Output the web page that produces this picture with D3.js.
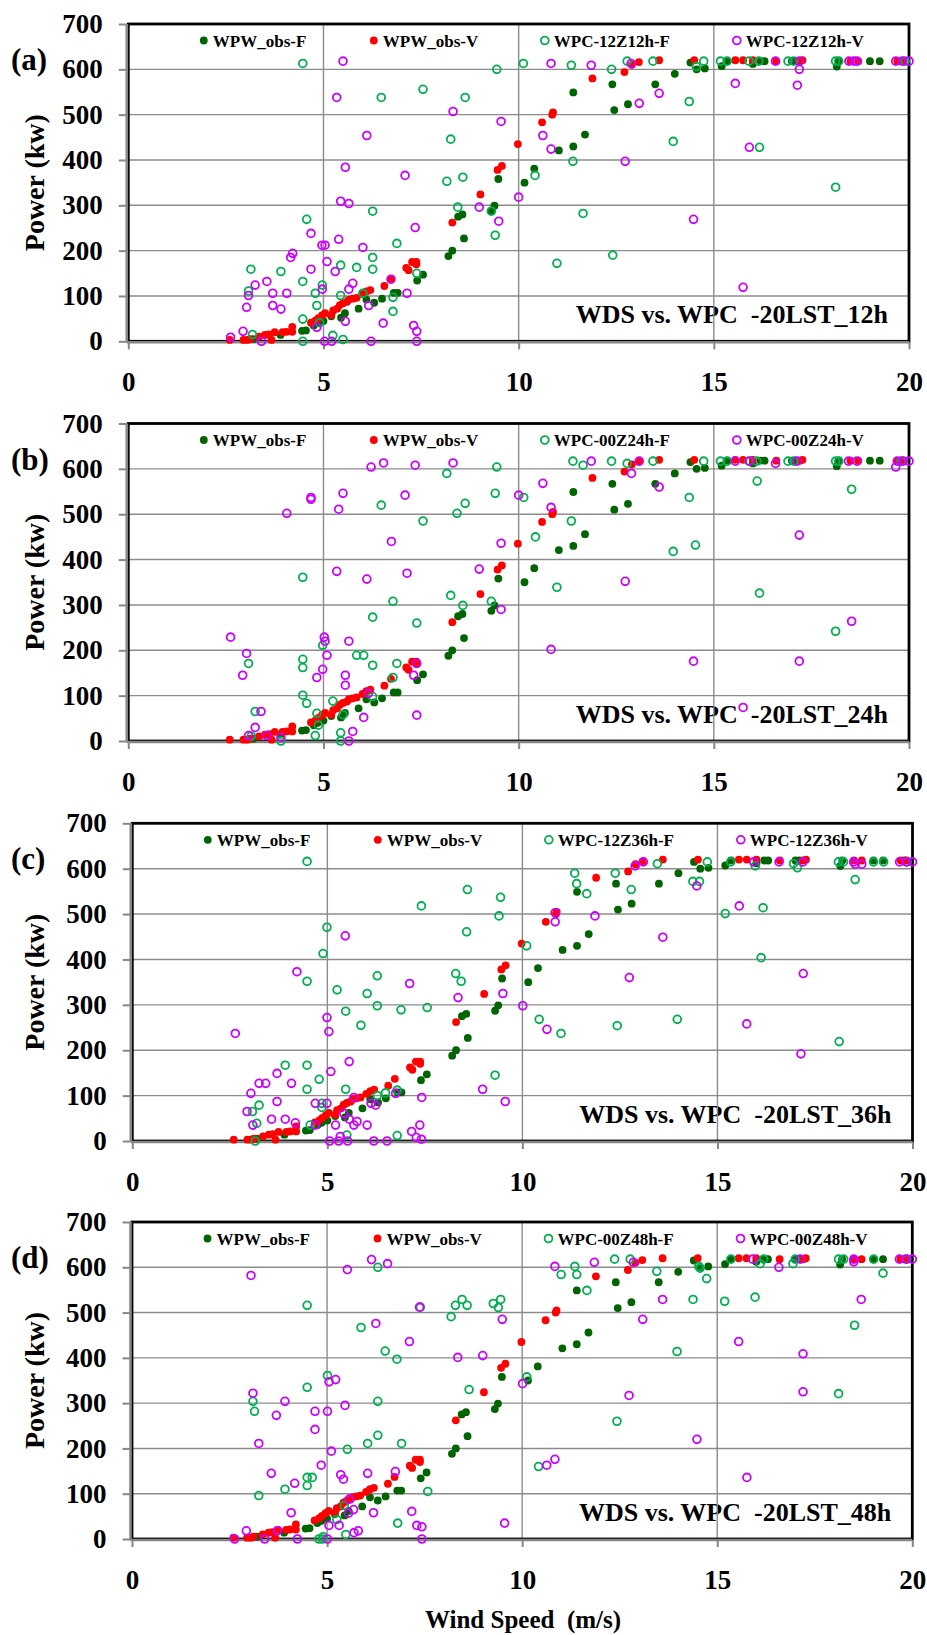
<!DOCTYPE html>
<html><head><meta charset="utf-8">
<script src="https://cdn.jsdelivr.net/npm/d3@7"></script>
<style>
html,body{margin:0;padding:0;background:#fff;}
svg{display:block;font-family:"Liberation Serif","Times New Roman",serif;font-weight:bold;}
</style></head>
<body>
<svg id="chart" width="927" height="1635"></svg>
<script>
// ---------- data ----------
const xTicks = [0, 5, 10, 15, 20];
const yTicks = [0, 100, 200, 300, 400, 500, 600, 700];
const panelTags = ["(a)", "(b)", "(c)", "(d)"];
const obsLabels = ["WPW_obs-F", "WPW_obs-V"];
const wpcLabels = [["WPC-12Z12h-F","WPC-12Z12h-V"],["WPC-00Z24h-F","WPC-00Z24h-V"],["WPC-12Z36h-F","WPC-12Z36h-V"],["WPC-00Z48h-F","WPC-00Z48h-V"]];
const notes = ["WDS vs. WPC  -20LST_12h","WDS vs. WPC  -20LST_24h","WDS vs. WPC  -20LST_36h","WDS vs. WPC  -20LST_48h"];
const xTitle = "Wind Speed  (m/s)";
const yTitle = "Power (kw)";

// observed (same in every panel)
const obsF = [[3.2,5],[3.9,14],[4.45,23],[4.55,24],[4.75,35],[4.85,40],[5.0,45],[5.2,55],[5.45,52],[5.55,62],[5.9,72],[6.1,92],[6.3,85],[6.5,94],[6.8,107],[6.9,107],[7.4,134],[7.55,147],[8.2,188],[8.3,200],[8.45,275],[8.56,280],[8.6,227],[9.3,287],[9.38,299],[9.48,358],[10.15,350],[10.4,381],[11.03,421],[11.4,430],[11.7,456],[11.4,549],[12.4,567],[12.45,510],[12.8,523],[13.5,567],[14.0,590],[14.4,615],[14.56,600],[14.77,602],[15.2,607],[15.35,618],[16.0,612],[16.2,618],[16.3,618],[17.0,618],[17.1,618],[18.15,606],[18.2,618],[19.0,618],[19.25,618],[19.8,618]];
const obsV = [[2.6,3],[2.95,3],[3.05,3],[3.12,5],[3.35,10],[3.5,14],[3.6,15],[3.67,3],[3.75,20],[3.95,20],[4.05,21],[4.2,21],[4.2,32],[4.68,41],[4.8,46],[4.87,51],[4.96,57],[5.04,62],[5.2,58],[5.25,68],[5.35,72],[5.42,80],[5.5,84],[5.6,87],[5.65,92],[5.75,94],[5.85,96],[6.0,104],[6.1,110],[6.2,113],[6.56,122],[6.73,137],[7.12,162],[7.18,157],[7.27,175],[7.38,175],[7.38,170],[8.3,262],[9.02,324],[9.46,378],[9.57,387],[9.98,435],[10.6,483],[10.86,500],[10.88,505],[11.89,580],[12.71,594],[12.9,610],[13.08,616],[13.6,620],[14.5,620],[15.55,620],[15.75,620],[16.0,620],[16.6,618],[17.2,618],[17.27,620],[18.5,618],[18.7,618],[19.7,618],[19.85,618]];

// panel (a) 12Z12h
const wpcF_a = [[4.47,613],[6.48,538],[7.55,556],[8.63,538],[8.26,446],[8.16,353],[8.57,362],[8.44,296],[6.26,287],[4.57,269],[6.88,216],[6.26,185],[6.26,159],[5.85,163],[5.44,168],[3.91,154],[3.14,159],[4.47,132],[3.08,111],[4.97,124],[4.79,106],[5.44,101],[6.01,106],[6.78,97],[7.39,150],[4.83,79],[6.78,66],[4.47,49],[4.9,41],[3.18,15],[5.24,13],[5.5,4],[4.47,0],[9.44,600],[10.12,613],[11.35,609],[12.38,600],[12.78,618],[13.44,618],[14.55,606],[14.74,618],[15.17,618],[15.34,618],[15.9,618],[16.15,618],[16.9,618],[17.05,618],[18.12,618],[18.2,618],[19.9,618],[14.37,529],[13.96,441],[16.17,428],[18.12,340],[11.39,397],[10.42,366],[9.3,287],[11.65,282],[9.4,234],[12.41,190],[10.98,172]];
const wpcV_a = [[5.5,618],[5.34,538],[6.11,454],[5.56,384],[8.32,507],[7.09,366],[5.44,309],[5.65,304],[7.35,251],[4.68,238],[5.39,225],[4.96,212],[5.04,212],[6.01,207],[4.21,194],[4.16,185],[5.09,176],[4.68,159],[5.3,154],[3.55,132],[3.25,124],[5.75,128],[3.7,106],[4.06,106],[3.08,101],[4.97,115],[5.65,115],[6.73,137],[7.14,106],[3.03,75],[3.7,79],[3.91,71],[6.16,79],[5.56,44],[4.83,31],[6.53,40],[7.31,35],[7.39,22],[2.62,9],[2.94,22],[3.41,0],[5.03,0],[5.21,0],[6.22,0],[7.39,0],[9.55,485],[8.99,296],[9.49,265],[10.0,318],[10.62,454],[10.83,424],[10.83,613],[11.86,609],[12.88,613],[13.09,525],[13.6,547],[12.73,397],[14.48,269],[15.55,569],[17.14,565],[15.91,428],[15.75,119],[16.58,618],[17.19,600],[17.19,618],[18.46,618],[18.59,618],[18.67,618],[19.66,618],[19.83,618],[20.0,618]];

// panel (b) 00Z24h
const wpcF_b = [[8.16,590],[8.63,524],[8.42,502],[6.48,520],[7.55,485],[4.47,361],[8.26,321],[8.57,299],[6.78,308],[6.26,273],[7.39,260],[4.98,211],[4.47,180],[4.47,162],[3.08,171],[5.85,189],[6.03,189],[6.26,167],[6.88,171],[6.78,140],[4.47,101],[4.57,83],[5.24,88],[4.83,61],[5.5,58],[6.26,98],[3.25,65],[4.87,35],[4.79,12],[5.44,18],[5.44,0],[3.91,0],[3.15,11],[9.44,604],[9.4,546],[10.13,537],[11.39,617],[11.65,608],[12.38,617],[12.78,612],[13.44,617],[14.74,617],[15.17,617],[15.34,617],[15.9,617],[16.1,617],[16.9,617],[17.05,617],[18.12,617],[18.2,617],[19.8,617],[16.11,573],[18.53,555],[14.37,537],[11.35,485],[10.43,450],[13.96,418],[14.53,432],[10.98,339],[16.17,326],[9.3,308],[18.12,242]];
const wpcV_b = [[6.22,604],[6.54,613],[7.35,608],[8.32,613],[4.68,537],[4.68,533],[5.5,546],[5.39,511],[4.06,502],[7.09,542],[6.74,440],[5.34,374],[6.11,357],[7.14,370],[2.62,229],[3.03,193],[2.93,145],[5.02,229],[5.04,220],[5.09,189],[5.65,220],[4.98,158],[4.83,140],[5.56,145],[5.56,123],[7.31,145],[7.39,171],[6.15,105],[6.03,52],[7.39,57],[3.4,65],[3.25,30],[3.08,12],[3.55,12],[3.91,8],[5.75,21],[5.65,0],[8.99,379],[9.55,436],[9.55,290],[10.0,542],[10.62,568],[10.83,515],[10.83,202],[11.86,617],[12.89,590],[13.09,617],[13.6,560],[12.73,352],[14.48,176],[15.55,617],[15.92,617],[16.58,612],[17.13,617],[17.19,454],[17.19,176],[15.75,74],[18.45,617],[18.67,617],[18.53,264],[19.66,604],[19.7,617],[19.85,617],[20.0,617]];

// panel (c) 12Z36h
const wpcF_c = [[4.48,616],[7.41,518],[8.59,554],[8.57,461],[4.99,471],[4.89,413],[4.48,352],[8.29,369],[8.43,352],[6.28,364],[5.25,333],[6.02,325],[5.47,286],[6.28,298],[6.89,289],[7.56,294],[5.86,255],[3.92,167],[4.48,167],[4.79,136],[4.48,114],[5.47,114],[3.25,79],[3.08,65],[3.19,39],[4.86,83],[4.86,74],[6.28,100],[6.49,106],[6.79,112],[4.56,35],[5.5,13],[6.79,12],[3.15,0],[9.44,537],[9.4,496],[10.11,430],[10.43,268],[10.99,237],[12.43,254],[13.97,268],[9.3,145],[11.34,590],[11.39,567],[11.65,545],[12.38,590],[12.79,554],[13.46,611],[14.37,572],[14.54,572],[14.74,615],[15.34,615],[15.2,501],[16.17,514],[16.12,404],[15.97,606],[16.95,611],[17.05,602],[18.1,615],[18.23,615],[18.53,576],[18.12,219],[19.0,615],[19.26,615],[19.86,615]];
const wpcV_c = [[2.64,237],[4.22,373],[5.46,452],[4.99,272],[5.04,241],[5.09,153],[5.56,175],[7.11,347],[8.35,316],[3.71,149],[3.04,105],[3.25,127],[3.42,127],[4.08,127],[3.71,87],[2.94,65],[3.09,35],[3.57,48],[3.92,48],[4.18,40],[4.69,83],[4.99,83],[4.69,35],[5.42,61],[5.68,96],[5.56,48],[5.76,43],[5.68,35],[5.21,35],[6.02,35],[6.12,83],[6.24,79],[6.75,105],[7.42,96],[7.16,21],[7.37,35],[7.28,8],[7.41,4],[5.06,0],[5.29,0],[5.52,0],[6.19,0],[6.53,0],[5.33,10],[8.98,114],[9.56,87],[9.5,325],[10.01,298],[10.84,503],[10.84,483],[10.63,246],[11.86,496],[12.89,606],[13.1,615],[13.6,449],[12.74,360],[14.47,562],[15.56,518],[15.75,258],[15.93,615],[16.58,615],[17.19,615],[17.2,369],[17.14,192],[18.49,615],[18.53,610],[18.7,610],[19.67,615],[19.84,615],[20.0,615]];

// panel (d) 00Z48h
const wpcF_d = [[6.3,600],[4.49,516],[7.39,512],[5.87,467],[6.49,415],[6.79,397],[5.01,361],[4.49,335],[3.1,304],[3.14,282],[6.3,304],[8.18,491],[8.29,516],[8.46,529],[8.59,516],[8.64,330],[5.52,198],[6.04,211],[6.3,229],[6.91,211],[4.49,136],[4.62,136],[4.49,118],[3.92,110],[3.25,96],[7.58,105],[5.44,74],[5.25,43],[6.81,35],[5.48,10],[4.79,0],[4.88,0],[4.9,5],[9.26,520],[9.45,529],[9.39,511],[10.12,358],[10.42,160],[12.43,260],[13.97,414],[14.38,529],[15.19,525],[15.97,534],[18.52,472],[18.11,321],[11.0,584],[11.4,584],[11.35,602],[11.66,549],[12.37,618],[12.77,618],[13.45,591],[14.53,602],[14.56,598],[14.73,575],[15.35,618],[16.1,608],[16.19,618],[16.94,608],[17.0,618],[18.11,618],[18.24,618],[19.01,618],[19.25,587],[19.86,618]];
const wpcV_d = [[6.14,617],[6.55,608],[5.52,595],[3.05,582],[6.25,476],[7.37,512],[7.11,436],[8.35,401],[5.05,347],[5.22,352],[3.1,322],[3.92,304],[3.7,273],[4.69,282],[5.01,282],[5.46,295],[4.69,242],[3.25,211],[5.11,194],[4.85,163],[3.57,145],[4.17,123],[5.35,142],[5.42,132],[6.04,145],[6.75,149],[4.08,58],[5.57,88],[5.68,65],[5.55,57],[6.19,58],[7.17,61],[2.93,18],[3.72,18],[2.63,0],[3.4,0],[4.24,0],[5.01,0],[5.05,30],[5.31,30],[5.69,14],[5.8,18],[7.3,30],[7.43,27],[7.43,0],[9.49,485],[8.99,405],[9.55,35],[10.01,343],[10.84,602],[11.85,611],[12.85,611],[13.09,485],[13.6,529],[12.74,317],[14.48,220],[10.63,163],[10.84,176],[15.55,436],[15.76,136],[15.91,618],[16.58,600],[17.2,409],[17.2,325],[17.13,618],[18.5,612],[18.5,618],[18.69,529],[19.67,618],[19.84,618],[20.0,618]];

const wpcF = [wpcF_a, wpcF_b, wpcF_c, wpcF_d];
const wpcV = [wpcV_a, wpcV_b, wpcV_c, wpcV_d];

// ---------- layout ----------
const frames = [
  {x0:128.3, x1:909,   y0:24,    y1:341.3},
  {x0:128.3, x1:909,   y0:423.5, y1:741},
  {x0:132.3, x1:912.5, y0:823.3, y1:1141},
  {x0:132,   x1:912.3, y0:1222,  y1:1539}
];
const C = {obsF:"#006400", obsV:"#ff0000", wpcF:"#00b050", wpcV:"#cc00ff", grid:"#8c8c8c", axis:"#868686"};
const FONT = '"Liberation Serif","Times New Roman",serif';
const svg = d3.select("#chart");

frames.forEach((f, i) => {
  const x = d3.scaleLinear().domain([0, 20]).range([f.x0, f.x1]);
  const y = d3.scaleLinear().domain([0, 700]).range([f.y1, f.y0]);
  const g = svg.append("g");

  // annotation text (under gridlines)
  g.append("text").attr("x", f.x1 - 21).attr("y", f.y1 - 18)
    .attr("text-anchor", "end").attr("font-size", 26).style("white-space", "pre")
    .attr("fill", "#000").text(notes[i]);

  // gridlines
  g.append("g").selectAll("line").data(yTicks.filter(v => v > 0 && v < 700)).join("line")
    .attr("x1", f.x0).attr("x2", f.x1).attr("y1", d => y(d)).attr("y2", d => y(d))
    .attr("stroke", C.grid).attr("stroke-width", 1.4);
  g.append("g").selectAll("line").data(xTicks.filter(v => v > 0 && v < 20)).join("line")
    .attr("x1", d => x(d)).attr("x2", d => x(d)).attr("y1", f.y0).attr("y2", f.y1)
    .attr("stroke", C.grid).attr("stroke-width", 1.4);

  // plot border
  g.append("rect").attr("x", f.x0).attr("y", f.y0).attr("width", f.x1 - f.x0).attr("height", f.y1 - f.y0)
    .attr("fill", "none").attr("stroke", "#000").attr("stroke-width", 2.8);

  // axes
  const ya = g.append("g").attr("transform", `translate(${f.x0 - 1.5},0)`)
    .call(d3.axisLeft(y).tickValues(yTicks).tickSize(8).tickPadding(16).tickFormat(d3.format("d")));
  const xa = g.append("g").attr("transform", `translate(0,${f.y1 + 1})`)
    .call(d3.axisBottom(x).tickValues(xTicks).tickSize(7).tickPadding(23).tickFormat(d3.format("d")));
  [ya, xa].forEach(a => {
    a.attr("font-family", FONT);
    a.select(".domain").attr("stroke", C.axis).attr("stroke-width", 2.6);
    a.selectAll(".tick line").attr("stroke", C.axis).attr("stroke-width", 2);
    a.selectAll("text").attr("font-size", 27).attr("font-weight", "bold")
      .attr("font-family", FONT).attr("fill", "#000");
  });
  ya.select(".domain").attr("d", `M0,${f.y0}V${f.y1 + 1}`);
  xa.select(".domain").attr("d", `M${f.x0 - 1.5},0H${f.x1}`);

  // series
  const series = [
    {data: obsF, color: C.obsF, fill: true},
    {data: obsV, color: C.obsV, fill: true},
    {data: wpcF[i], color: C.wpcF, fill: false},
    {data: wpcV[i], color: C.wpcV, fill: false}
  ];
  series.forEach(s => {
    g.append("g").selectAll("circle").data(s.data).join("circle")
      .attr("cx", d => x(d[0])).attr("cy", d => y(d[1]))
      .attr("r", s.fill ? 3.9 : 3.9)
      .attr("fill", s.fill ? s.color : "none")
      .attr("stroke", s.fill ? "none" : s.color)
      .attr("stroke-width", s.fill ? 0 : 1.8);
  });

  // legend
  const legOff = [75.5, 245.5, 416.5, 608.5];
  const legLab = [obsLabels[0], obsLabels[1], wpcLabels[i][0], wpcLabels[i][1]];
  series.forEach((s, k) => {
    const lx = f.x0 + legOff[k], ly = f.y0 + 16.5;
    g.append("circle").attr("cx", lx).attr("cy", ly).attr("r", 3.9)
      .attr("fill", s.fill ? s.color : "none").attr("stroke", s.fill ? "none" : s.color)
      .attr("stroke-width", 1.8);
    g.append("text").attr("x", lx + 9).attr("y", ly + 6).attr("font-size", 17)
      .attr("fill", "#000").text(legLab[k]);
  });

  // panel tag and y title
  g.append("text").attr("x", 11).attr("y", f.y0 + 46).attr("font-size", 31).text(panelTags[i]);
  g.append("text").attr("transform", `translate(${44},${(f.y0 + f.y1) / 2}) rotate(-90)`)
    .attr("text-anchor", "middle").attr("font-size", 28).text(yTitle);
});

// x title
svg.append("text").attr("x", 523).attr("y", 1628).attr("text-anchor", "middle")
  .attr("font-size", 25).style("white-space", "pre").text(xTitle);
</script>
</body></html>
